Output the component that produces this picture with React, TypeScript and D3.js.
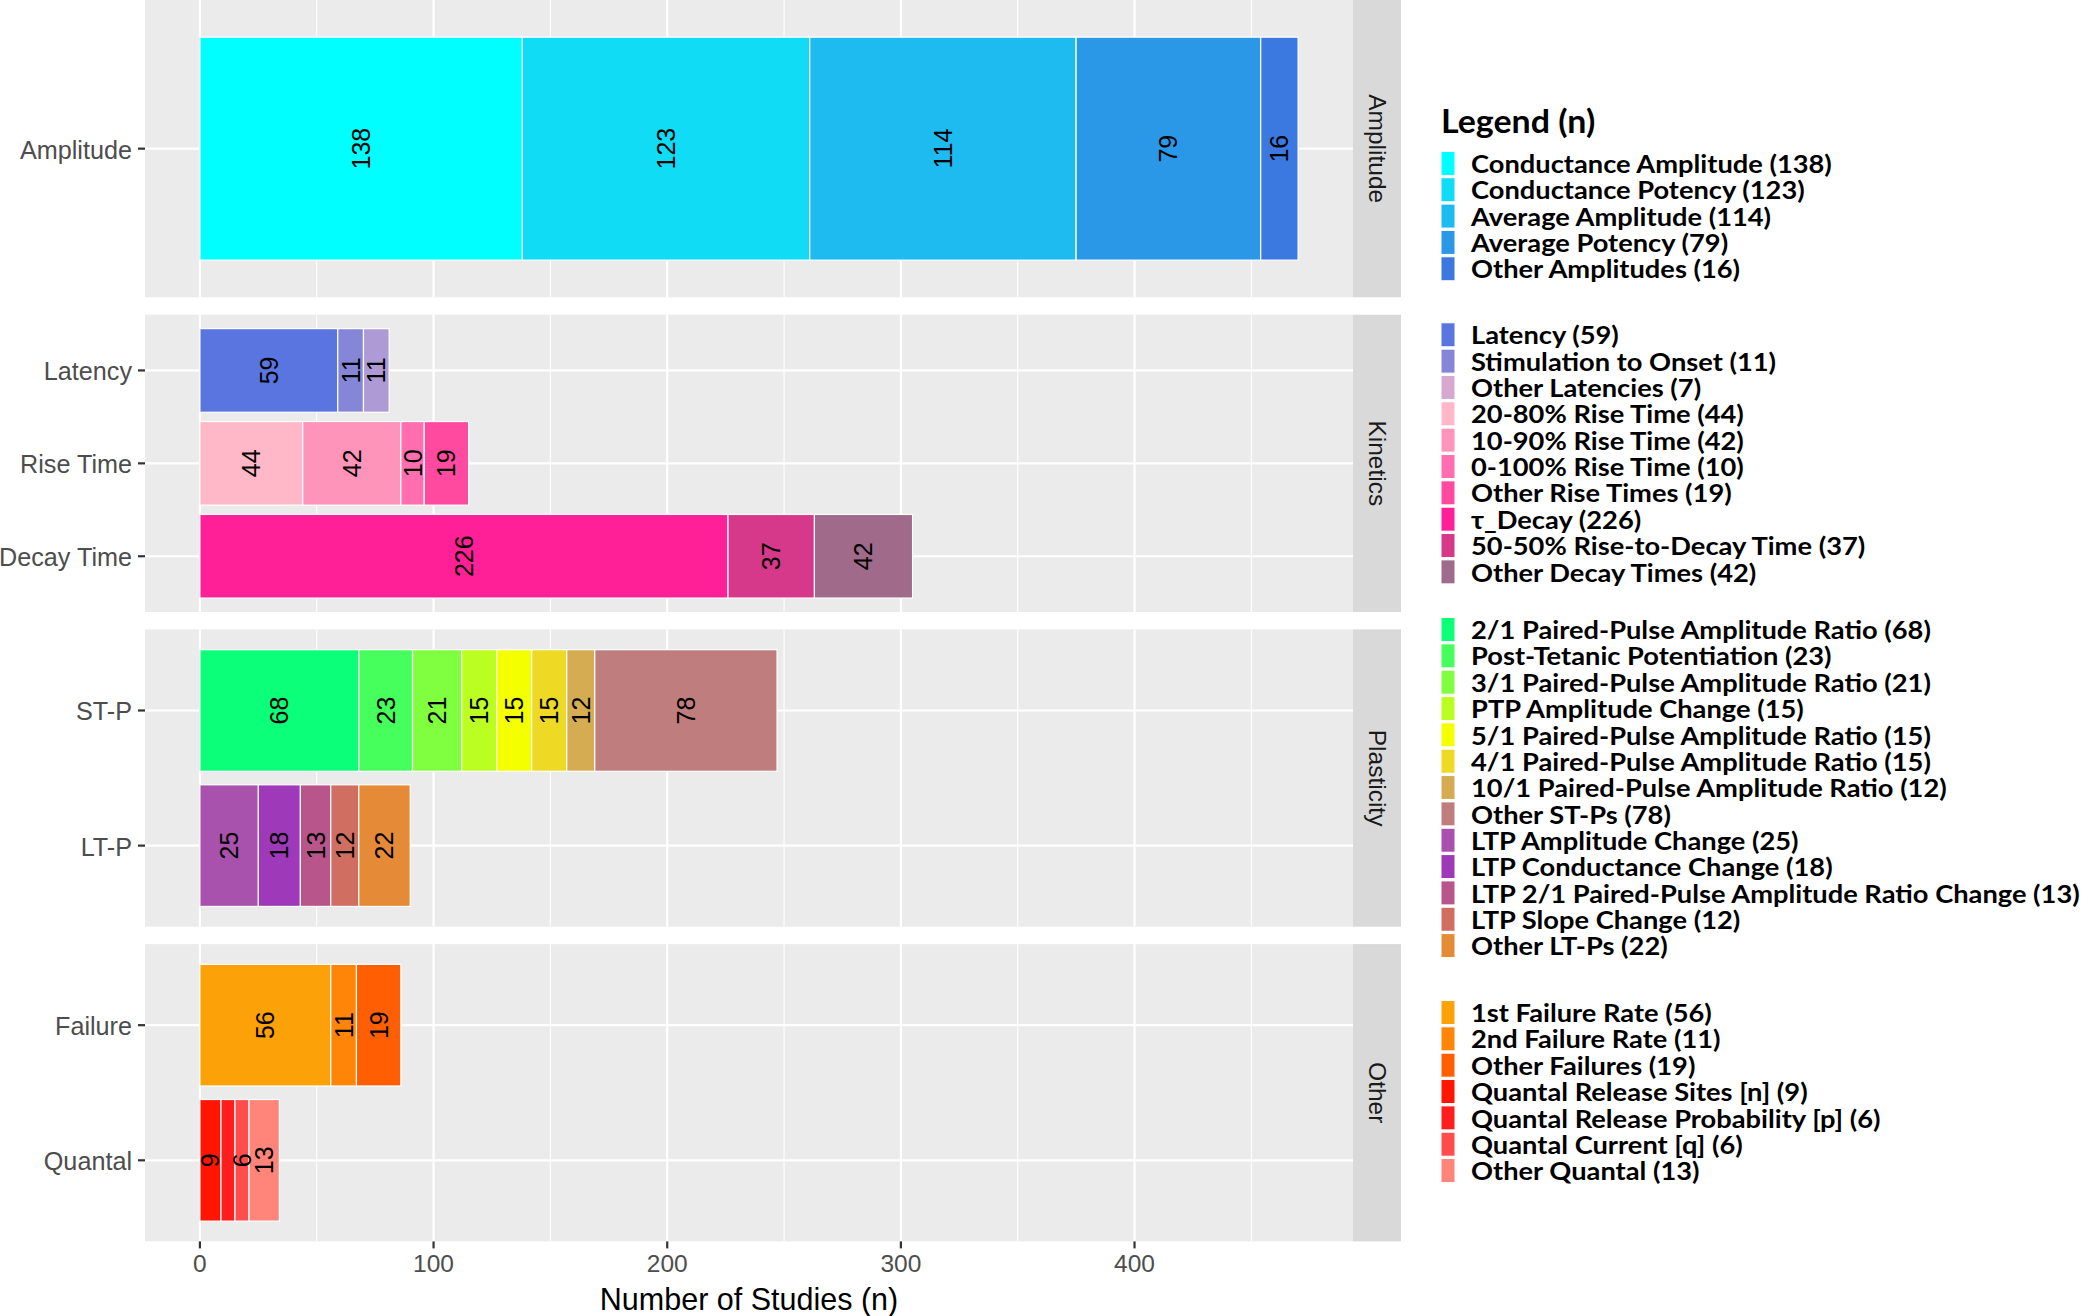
import React from 'react';
import * as d3 from 'd3';

// ---------------- DATA ----------------
const facetNames = ['Amplitude', 'Kinetics', 'Plasticity', 'Other'];
const facetCategories = [
  ['Amplitude'],
  ['Latency', 'Rise Time', 'Decay Time'],
  ['ST-P', 'LT-P'],
  ['Failure', 'Quantal'],
];

const seriesNames = [
  'Conductance Amplitude', 'Conductance Potency', 'Average Amplitude', 'Average Potency', 'Other Amplitudes',
  'Latency', 'Stimulation to Onset', 'Other Latencies',
  '20-80% Rise Time', '10-90% Rise Time', '0-100% Rise Time', 'Other Rise Times',
  'τ_Decay', '50-50% Rise-to-Decay Time', 'Other Decay Times',
  '2/1 Paired-Pulse Amplitude Ratio', 'Post-Tetanic Potentiation', '3/1 Paired-Pulse Amplitude Ratio',
  'PTP Amplitude Change', '5/1 Paired-Pulse Amplitude Ratio', '4/1 Paired-Pulse Amplitude Ratio',
  '10/1 Paired-Pulse Amplitude Ratio', 'Other ST-Ps',
  'LTP Amplitude Change', 'LTP Conductance Change', 'LTP 2/1 Paired-Pulse Amplitude Ratio Change',
  'LTP Slope Change', 'Other LT-Ps',
  '1st Failure Rate', '2nd Failure Rate', 'Other Failures',
  'Quantal Release Sites [n]', 'Quantal Release Probability [p]', 'Quantal Current [q]', 'Other Quantal',
];

const seriesCategory = [
  'Amplitude', 'Amplitude', 'Amplitude', 'Amplitude', 'Amplitude',
  'Latency', 'Latency', 'Latency',
  'Rise Time', 'Rise Time', 'Rise Time', 'Rise Time',
  'Decay Time', 'Decay Time', 'Decay Time',
  'ST-P', 'ST-P', 'ST-P', 'ST-P', 'ST-P', 'ST-P', 'ST-P', 'ST-P',
  'LT-P', 'LT-P', 'LT-P', 'LT-P', 'LT-P',
  'Failure', 'Failure', 'Failure',
  'Quantal', 'Quantal', 'Quantal', 'Quantal',
];

// values drawn as bar segments
const seriesValues = [
  138, 123, 114, 79, 16,
  59, 11, 11,
  44, 42, 10, 19,
  226, 37, 42,
  68, 23, 21, 15, 15, 15, 12, 78,
  25, 18, 13, 12, 22,
  56, 11, 19,
  9, 6, 6, 13,
];

// counts printed in the legend
const legendCounts = [
  138, 123, 114, 79, 16,
  59, 11, 7,
  44, 42, 10, 19,
  226, 37, 42,
  68, 23, 21, 15, 15, 15, 12, 78,
  25, 18, 13, 12, 22,
  56, 11, 19,
  9, 6, 6, 13,
];

const seriesColors = [
  '#00FFFF', '#10DDF5', '#1EBBF0', '#2A98E6', '#3B78E0',
  '#5A75E0', '#8686D8', '#AE9BD5',
  '#FFB8C8', '#FF94BA', '#FF6EAE', '#FF4AA0',
  '#FF1F96', '#D6388A', '#A06A8A',
  '#0BFF78', '#46FF5C', '#80FF40', '#BBFF22', '#F4FF00', '#EED925', '#D6AC52', '#C07D7D',
  '#A851AD', '#9E3ABA', '#B8558B', '#D06E62', '#E58A36',
  '#FCA107', '#FF8508', '#FF5F02',
  '#FF1500', '#FF1E1E', '#FF4C4C', '#FF857A',
];

const legendKeyColors = seriesColors.map((c, i) => (seriesNames[i] === 'Other Latencies' ? '#D5A9CF' : c));

const legendGroupSizes = [5, 10, 13, 7];
const xTicks = [0, 100, 200, 300, 400];
const xMinorTicks = [50, 150, 250, 350, 450];
const xTitle = 'Number of Studies (n)';
const legendTitle = 'Legend (n)';

// ---------------- LAYOUT ----------------
const W = 2100;
const H = 1316;
const panelX0 = 145;
const panelX1 = 1353;
const stripX1 = 1401;
const panelH = 297.3;
const panelGap = 17.4;
const legendKeyX = 1441;
const legendTextX = 1471;
const legendTitleY = 120;
const legendGroupStarts = [163.4, 334.8, 629.5, 1012.5];
const legendPitch = 26.34;

const axisFont = 'Liberation Sans, Arial, Helvetica, sans-serif';
const legendFont = 'Lato, Carlito, Calibri, sans-serif';

export default function App() {
  const totals = d3.rollup(
    seriesValues.map((v, i) => ({ v, c: seriesCategory[i] })),
    (arr) => d3.sum(arr, (d) => d.v),
    (d) => d.c
  );
  const maxTotal = d3.max(Array.from(totals.values())) as number;
  const x = d3.scaleLinear().domain([-0.05 * maxTotal, 1.05 * maxTotal]).range([panelX0, panelX1]);
  const bottom = facetNames.length * panelH + (facetNames.length - 1) * panelGap;

  const panels = facetNames.map((fname, fi) => {
    const top = fi * (panelH + panelGap);
    const cats = facetCategories[fi];
    const y = d3.scaleLinear().domain([0.4, cats.length + 0.6]).range([top, top + panelH]);
    return { fname, fi, top, cats, y };
  });

  const labelExtent = 20;

  return (
    <svg
      width={W}
      height={H}
      style={{ position: 'absolute', left: 0, top: 0, background: '#fff' }}
      xmlns="http://www.w3.org/2000/svg"
    >
      {panels.map(({ fname, top, cats, y }) => {
        const bw = y(1.45) - y(0.55);
        return (
          <g key={fname}>
            <rect x={panelX0} y={top} width={panelX1 - panelX0} height={panelH} fill="#EBEBEB" />
            {xMinorTicks.map((t) => (
              <line key={'m' + t} x1={x(t)} x2={x(t)} y1={top} y2={top + panelH} stroke="#fff" strokeWidth={1.1} />
            ))}
            {cats.map((c, ci) => (
              <line key={'h' + c} x1={panelX0} x2={panelX1} y1={y(ci + 1)} y2={y(ci + 1)} stroke="#fff" strokeWidth={2.2} />
            ))}
            {xTicks.map((t) => (
              <line key={'M' + t} x1={x(t)} x2={x(t)} y1={top} y2={top + panelH} stroke="#fff" strokeWidth={2.2} />
            ))}
            {cats.map((c, ci) => {
              const cy = y(ci + 1);
              let cum = 0;
              const segs = seriesValues
                .map((v, i) => ({ v, i }))
                .filter((d) => seriesCategory[d.i] === c)
                .map((d) => {
                  const s = { ...d, x0: cum, x1: cum + d.v };
                  cum += d.v;
                  return s;
                });
              const placed: number[] = [];
              const labels = segs.filter((s) => {
                const cx = x((s.x0 + s.x1) / 2);
                const ok = placed.every((p) => Math.abs(p - cx) >= labelExtent);
                if (ok) placed.push(cx);
                return ok;
              });
              return (
                <g key={c}>
                  {segs.map((s) => (
                    <rect
                      key={s.i}
                      x={x(s.x0)}
                      y={cy - bw / 2}
                      width={x(s.x1) - x(s.x0)}
                      height={bw}
                      fill={seriesColors[s.i]}
                      stroke="#fff"
                      strokeWidth={1.2}
                    />
                  ))}
                  {labels.map((s) => {
                    const cx = x((s.x0 + s.x1) / 2);
                    return (
                      <text
                        key={'t' + s.i}
                        transform={`translate(${cx},${cy}) rotate(-90)`}
                        textAnchor="middle"
                        dominantBaseline="central"
                        fontFamily={axisFont}
                        fontSize={25}
                        fill="#000"
                      >
                        {s.v}
                      </text>
                    );
                  })}
                  <line x1={panelX0 - 7} x2={panelX0} y1={cy} y2={cy} stroke="#333" strokeWidth={2.2} />
                  <text
                    x={panelX0 - 13}
                    y={cy + 1}
                    textAnchor="end"
                    dominantBaseline="central"
                    fontFamily={axisFont}
                    fontSize={25.2}
                    fill="#4D4D4D"
                  >
                    {c}
                  </text>
                </g>
              );
            })}
            <rect x={panelX1} y={top} width={stripX1 - panelX1} height={panelH} fill="#D9D9D9" />
            <text
              transform={`translate(${(panelX1 + stripX1) / 2},${top + panelH / 2}) rotate(90)`}
              textAnchor="middle"
              dominantBaseline="central"
              fontFamily={axisFont}
              fontSize={24.5}
              fill="#1A1A1A"
            >
              {fname}
            </text>
          </g>
        );
      })}

      {/* x axis */}
      {xTicks.map((t) => (
        <g key={'xt' + t}>
          <line x1={x(t)} x2={x(t)} y1={bottom} y2={bottom + 7} stroke="#333" strokeWidth={2.2} />
          <text
            x={x(t)}
            y={bottom + 22}
            textAnchor="middle"
            dominantBaseline="central"
            fontFamily={axisFont}
            fontSize={24.5}
            fill="#4D4D4D"
          >
            {t}
          </text>
        </g>
      ))}
      <text
        x={(panelX0 + panelX1) / 2}
        y={bottom + 58}
        textAnchor="middle"
        dominantBaseline="central"
        fontFamily={axisFont}
        fontSize={30.5}
        fill="#000"
      >
        {xTitle}
      </text>

      {/* legend */}
      <text
        transform={`translate(${legendKeyX},${legendTitleY}) scale(1.06,1)`}
        dominantBaseline="central"
        fontFamily={legendFont}
        fontWeight="bold"
        fontSize={32}
        fill="#000"
      >
        {legendTitle}
      </text>
      {legendGroupSizes.map((size, gi) => {
        const startIdx = d3.sum(legendGroupSizes.slice(0, gi));
        return (
          <g key={'lg' + gi}>
            {d3.range(size).map((k) => {
              const i = startIdx + k;
              const cy = legendGroupStarts[gi] + k * legendPitch;
              return (
                <g key={'li' + i}>
                  <rect x={legendKeyX} y={cy - 12} width={14} height={24} fill={legendKeyColors[i]} stroke="#fff" strokeWidth={1} />
                  <text
                    transform={`translate(${legendTextX},${cy}) scale(1.07,1)`}
                    dominantBaseline="central"
                    fontFamily={legendFont}
                    fontWeight="bold"
                    fontSize={25.5}
                    fill="#000"
                  >
                    {`${seriesNames[i]} (${legendCounts[i]})`}
                  </text>
                </g>
              );
            })}
          </g>
        );
      })}
    </svg>
  );
}
